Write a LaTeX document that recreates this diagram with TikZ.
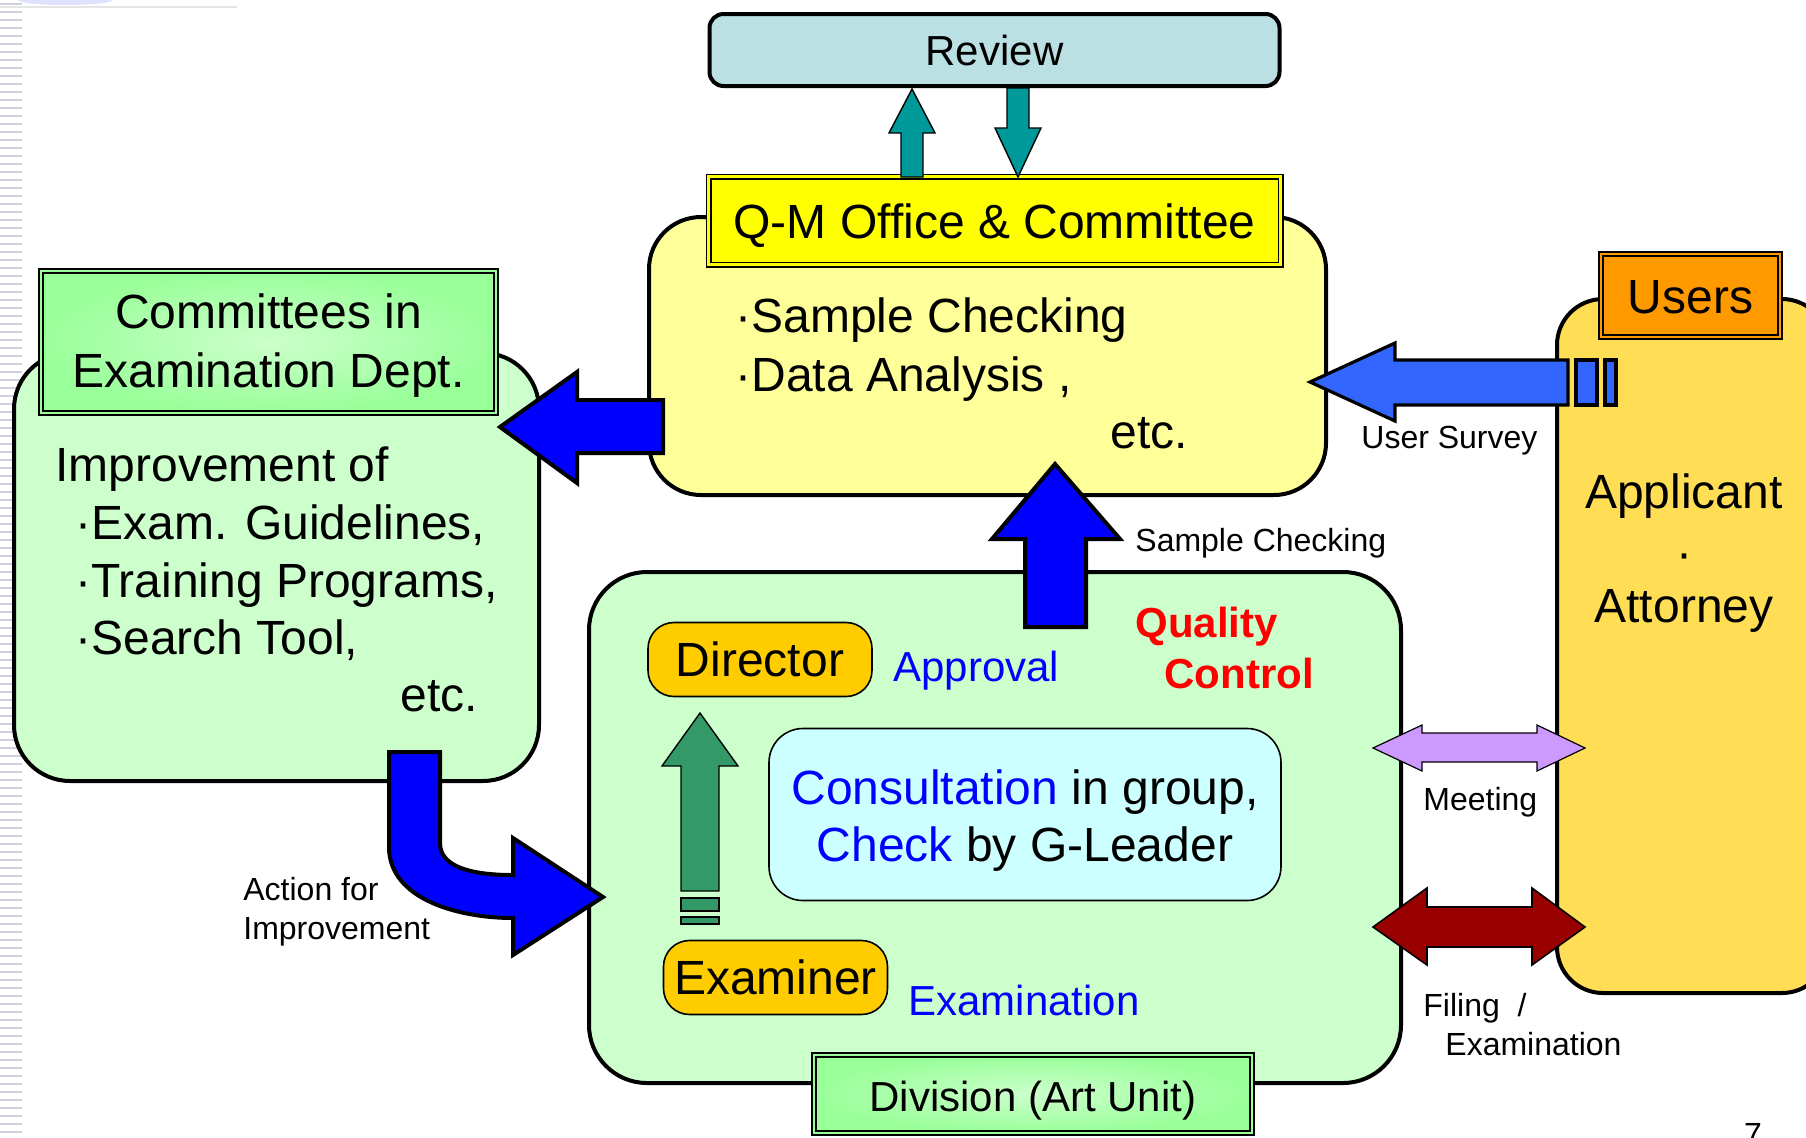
\documentclass[tikz,border=0pt]{standalone}
\usepackage{fontspec}
\setmainfont{Liberation Sans}
\usetikzlibrary{positioning}

\definecolor{reviewblue}{HTML}{BBE0E3}
\definecolor{qmyellow}{HTML}{FFFF00}
\definecolor{paleyellow}{HTML}{FFFF99}
\definecolor{palegreen}{HTML}{CCFFCC}
\definecolor{taggreen}{HTML}{99FF99}
\definecolor{paleblue}{HTML}{CCFFFF}
\definecolor{rolegold}{HTML}{FFCC00}
\definecolor{usersorange}{HTML}{FF9900}
\definecolor{usersyellow}{HTML}{FFDD55}
\definecolor{reviewteal}{HTML}{009999}
\definecolor{surveyblue}{HTML}{3366FF}
\definecolor{approvegreen}{HTML}{339966}
\definecolor{meetlilac}{HTML}{CC99FF}
\definecolor{filingred}{HTML}{990000}
\definecolor{stripegray}{HTML}{CDD2DE}

\tikzset{
  bigbox/.style={draw=black,line width=2pt},
  tagbox/.style={draw=black,line width=0.8pt,double distance=1.4pt},
  greentag/.style={tagbox,inner color=palegreen,outer color=taggreen,double=taggreen},
  rolebox/.style={draw=black,line width=0.8pt,fill=rolegold,rounded corners=13pt,
    minimum width=112pt,minimum height=37pt,bigtext},
  bigtext/.style={font=\fontsize{24}{28.8}\selectfont,inner sep=0pt},
  midtext/.style={font=\fontsize{21}{25.5}\selectfont,inner sep=0pt},
  smalltext/.style={font=\fontsize{16}{19.5}\selectfont,inner sep=0pt,align=left},
  blockarrow/.style={draw=black,line width=2pt,line join=miter,fill=blue},
  thinarrow/.style={draw=black,line width=0.7pt,line join=miter}
}
% lower a one-line label inside its box
\newcommand{\lowered}[2]{\raisebox{-#1}[0pt][0pt]{#2}}

\begin{document}
\begin{tikzpicture}[x=0.5pt,y=-0.5pt]
\useasboundingbox (0,0) rectangle (1806,1137);

% slide background
\foreach \y in {4,12,...,1136}
  \draw[stripegray,line width=1pt] (0,\y) -- (22,\y);
\draw[black!10,line width=1pt] (0,7) -- (237,7);
\fill[blue!12] (65,0) ellipse (47 and 5);

% committees in examination dept.
\node[bigbox,fill=palegreen,rounded corners=28pt,minimum width=262.5pt,minimum height=214pt] (improve) at (276.5,567) {};
\node[greentag,minimum width=227.5pt,minimum height=71pt] (committees) at (268.5,342) {};
\node[bigtext,align=center,font=\fontsize{24}{29.5}\selectfont] (committeestext) at ([yshift=-2pt]committees.center) {Committees in\\Examination Dept.};
\node[bigtext,anchor=west,align=left] (improvelist) at (55,554) {Improvement of\\\hspace{10pt}·Exam. Guidelines,\\\hspace{10pt}·Training Programs,\\\hspace{10pt}·Search Tool,};
\node[bigtext,anchor=west] (improveetc) at (400,696) {etc.};

% q-m office
\node[bigbox,fill=paleyellow,rounded corners=26pt,minimum width=338.5pt,minimum height=139pt] (qmbox) at (987.5,356) {};
\node[tagbox,fill=qmyellow,double=qmyellow,minimum width=286pt,minimum height=44pt,bigtext] (qmoffice) at (994.5,220.5) {\lowered{9pt}{Q-M Office \& Committee}};
\node[bigtext,anchor=west,align=left,font=\fontsize{24}{29.5}\selectfont] (qmlist) at (735,350) {·Sample Checking\\·Data Analysis ,};
\node[bigtext,anchor=west] (qmetc) at (1110,433) {etc.};

% review
\node[bigbox,fill=reviewblue,rounded corners=7pt,minimum width=285pt,minimum height=36pt,midtext] (review) at (994.5,50) {Review};
\draw[thinarrow,fill=reviewteal] (901,177) -- (901,133) -- (889,133) -- (912,89) -- (935,133) -- (923,133) -- (923,177) -- cycle;
\draw[thinarrow,fill=reviewteal] (1007,88) -- (1029,88) -- (1029,128) -- (1041,128) -- (1018,177) -- (995,128) -- (1007,128) -- cycle;

% feedback to committees
\draw[blockarrow] (663,400) -- (577,400) -- (577,372) -- (500,427) -- (577,483) -- (577,453) -- (663,453) -- cycle;

% division
\node[bigbox,fill=palegreen,rounded corners=29pt,minimum width=406pt,minimum height=255.5pt] (division) at (995,827.5) {};
\node[greentag,minimum width=219pt,minimum height=39pt,midtext] (divtag) at (1033,1094) {\lowered{8.8pt}{Division (Art Unit)}};
\node[rolebox] (director) at (760,659.5) {Director};
\node[rolebox] (examiner) at (775.5,977.5) {Examiner};
\node[draw=black,line width=0.8pt,fill=paleblue,rounded corners=17pt,minimum width=256pt,minimum height=86pt] (consult) at (1025,814.5) {};
\node[bigtext,align=center,font=\fontsize{24}{28.2}\selectfont] (consulttext) at ([yshift=-3pt]consult.center)
  {\textcolor{blue}{Consultation} in group,\\\textcolor{blue}{Check} by G-Leader};
\node[midtext,anchor=west,text=blue] (approval) at (893,671) {Approval};
\node[midtext,anchor=west,text=blue] (examination) at (908,1000) {Examination};
\node[midtext,anchor=west,align=left,text=red,font=\fontsize{21}{25.5}\bfseries] (quality) at (1135,648) {Quality\\\hspace{14.5pt}Control};

% approval arrow
\draw[thinarrow,fill=approvegreen] (681,891) -- (681,766) -- (662,766) -- (700,713) -- (738,766) -- (719,766) -- (719,891) -- cycle;
\draw[thinarrow,fill=approvegreen] (681,898) rectangle (719,911);
\draw[thinarrow,fill=approvegreen] (681,917) rectangle (719,924);

% sample checking
\draw[blockarrow] (1025,627) -- (1025,539) -- (992,539) -- (1055,464) -- (1120,539) -- (1086,539) -- (1086,627) -- cycle;
\node[smalltext,anchor=west] (samplelabel) at (1135,543) {Sample Checking};

% action for improvement
\draw[blockarrow] (389,752) -- (389,847) .. controls (389,900) and (460,918) .. (513,918)
  -- (513,955) -- (603,897) -- (513,838) -- (513,875) .. controls (480,875) and (440,870) .. (440,843)
  -- (440,752) -- cycle;
\node[smalltext,anchor=west] (actionlabel) at (243,912) {Action for\\Improvement};

% users
\node[bigbox,fill=usersyellow,rounded corners=23pt,minimum width=135.5pt,minimum height=347pt] (users) at (1692.5,646) {};
\node[tagbox,fill=usersorange,double=usersorange,minimum width=89.5pt,minimum height=41.5pt,bigtext] (usertag) at (1690.5,295.5) {\lowered{9pt}{Users}};
\node[bigtext,align=center,font=\fontsize{24}{28.5}\selectfont] (applicant) at (1684,553) {Applicant\\\raisebox{-2pt}{·}\\Attorney};

% user survey
\draw[blockarrow,fill=surveyblue,line width=1.6pt] (1568,360) -- (1395,360) -- (1395,343) -- (1310,382) -- (1395,421) -- (1395,405) -- (1568,405) -- cycle;
\draw[blockarrow,fill=surveyblue,line width=1.6pt] (1576,360) rectangle (1597,405);
\draw[blockarrow,fill=surveyblue,line width=1.6pt] (1605,360) rectangle (1616,405);
\node[smalltext,anchor=west] (surveylabel) at (1361,441) {User Survey};

% meeting and filing
\draw[thinarrow,fill=meetlilac,line width=0.6pt] (1373,748) -- (1422,725) -- (1422,733) -- (1537,733) -- (1537,725) -- (1585,748)
  -- (1537,771) -- (1537,762) -- (1422,762) -- (1422,771) -- cycle;
\node[smalltext,anchor=west] (meetlabel) at (1423,802) {Meeting};
\draw[thinarrow,fill=filingred,line width=0.8pt] (1373,927) -- (1427,888) -- (1427,907) -- (1532,907) -- (1532,888) -- (1585,927)
  -- (1532,965) -- (1532,947) -- (1427,947) -- (1427,965) -- cycle;
\node[smalltext,anchor=west,font=\fontsize{16}{19.5}\selectfont] (filinglabel) at (1423,1024.5) {Filing\ \ /\\\hspace{11pt}Examination};

% page number
\node[smalltext,anchor=north] (pagenum) at (1753,1123) {7};
\end{tikzpicture}
\end{document}
